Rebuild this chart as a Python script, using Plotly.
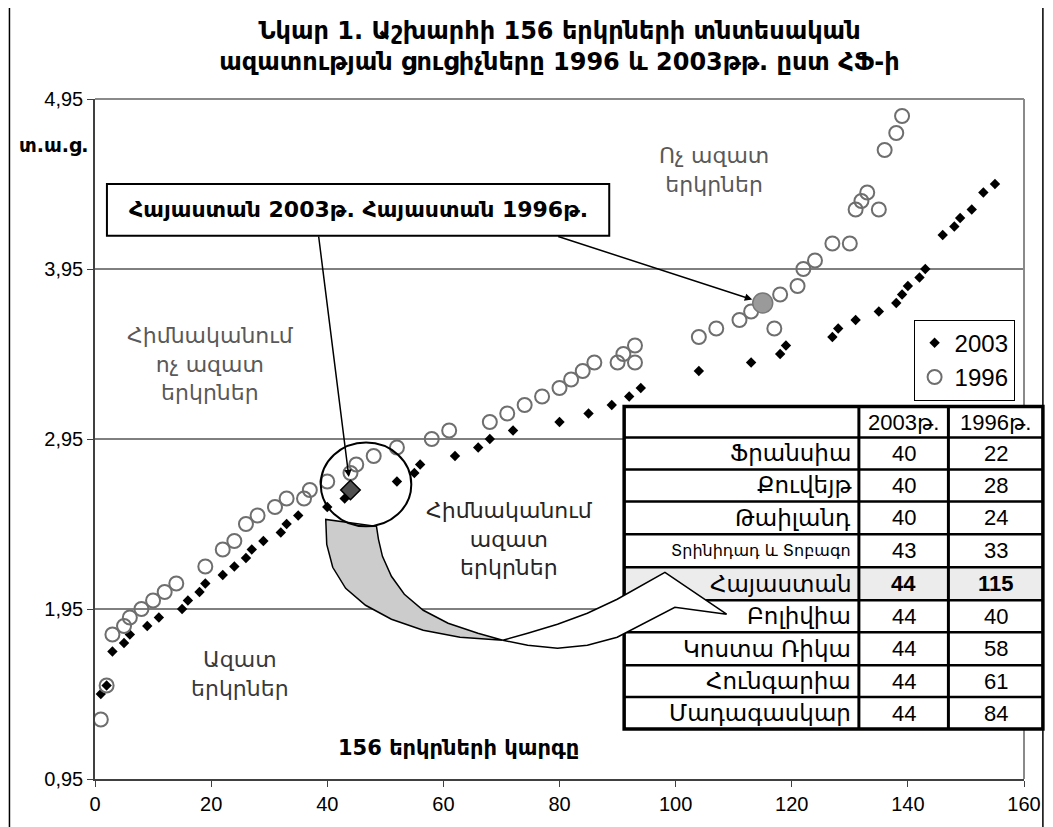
import plotly.graph_objects as go

# ---------------- data ----------------
rank_2003 = [1, 2, 3, 5, 6, 9, 11, 15, 16, 18, 19, 22, 24, 26, 27, 29, 32, 33, 35, 40, 43,
             52, 55, 56, 62, 66, 68, 72, 80, 85, 89, 92, 94, 104, 113, 118, 119, 127, 128,
             131, 135, 138, 139, 140, 142, 143, 146, 148, 149, 151, 153, 155]
score_2003 = [1.45, 1.50, 1.70, 1.75, 1.80, 1.85, 1.90, 1.95, 2.00, 2.05, 2.10, 2.15, 2.20,
              2.25, 2.30, 2.35, 2.40, 2.45, 2.50, 2.55, 2.60, 2.70, 2.75, 2.80, 2.85, 2.90,
              2.95, 3.00, 3.05, 3.10, 3.15, 3.20, 3.25, 3.35, 3.40, 3.45, 3.50, 3.55, 3.60,
              3.65, 3.70, 3.75, 3.80, 3.85, 3.90, 3.95, 4.15, 4.20, 4.25, 4.30, 4.40, 4.45]

rank_1996 = [1, 2, 3, 5, 6, 8, 10, 12, 14, 19, 22, 24, 26, 28, 31, 33, 36, 37, 40, 44, 45,
             48, 52, 58, 61, 68, 71, 74, 77, 80, 82, 84, 86, 90, 91, 93, 93, 104, 107, 111,
             113, 117, 118, 121, 122, 124, 127, 130, 131, 132, 133, 135, 136, 138, 139]
score_1996 = [1.30, 1.50, 1.80, 1.85, 1.90, 1.95, 2.00, 2.05, 2.10, 2.20, 2.30, 2.35, 2.45,
              2.50, 2.55, 2.60, 2.60, 2.65, 2.70, 2.75, 2.80, 2.85, 2.90, 2.95, 3.00, 3.05,
              3.10, 3.15, 3.20, 3.25, 3.30, 3.35, 3.40, 3.40, 3.45, 3.40, 3.50, 3.55, 3.60,
              3.65, 3.70, 3.60, 3.80, 3.85, 3.95, 4.00, 4.10, 4.10, 4.30, 4.35, 4.40, 4.30,
              4.65, 4.75, 4.85]

armenia_rank_2003 = [44]
armenia_score_2003 = [2.65]
armenia_rank_1996 = [115]
armenia_score_1996 = [3.75]

table_header = ["", "2003թ.", "1996թ."]
table_countries = ["Ֆրանսիա", "Քուվեյթ", "Թաիլանդ", "Տրինիդադ և Տոբագո", "Հայաստան",
                   "Բոլիվիա", "Կոստա Ռիկա", "Հունգարիա", "Մադագասկար"]
table_2003 = [40, 40, 40, 43, 44, 44, 44, 44, 44]
table_1996 = [22, 28, 24, 33, 115, 40, 58, 61, 84]

y_ticks = [0.95, 1.95, 2.95, 3.95, 4.95]
x_ticks = [0, 20, 40, 60, 80, 100, 120, 140, 160]

title_text = ("Նկար 1. Աշխարհի 156 երկրների տնտեսական<br>"
              "ազատության ցուցիչները 1996 և 2003թթ. ըստ ՀՖ-ի")

# ---------------- layout helpers (page pixel coordinates) ----------------
OFF = 8                       # default body margin of the html page
W, H = 1053 - OFF, 827 - OFF  # figure size
L, R, T, B = 95, 1029, 99, 780  # plot area in page pixels


def px(x):
    return (x - L) / (R - L)


def py(y):
    return (B - y) / (B - T)


ARM = "DejaVu Sans"
LAT = "Liberation Sans, Arial, DejaVu Sans"

fig = go.Figure()

fig.add_trace(go.Scatter(
    x=rank_2003, y=score_2003, mode="markers", name="2003", legendrank=1,
    marker=dict(symbol="diamond", size=8, color="black")))
fig.add_trace(go.Scatter(
    x=rank_1996, y=score_1996, mode="markers", name="1996", legendrank=2,
    marker=dict(symbol="circle-open", size=14, color="#6e6e6e", line=dict(width=2))))
fig.add_trace(go.Scatter(
    x=armenia_rank_2003, y=armenia_score_2003, mode="markers", showlegend=False,
    marker=dict(symbol="diamond", size=15, color="#505050", line=dict(color="black", width=1.5))))
fig.add_trace(go.Scatter(
    x=armenia_rank_1996, y=armenia_score_1996, mode="markers", showlegend=False,
    marker=dict(symbol="circle", size=20, color="#9a9a9a", line=dict(color="#777777", width=1.5))))

shapes = []
for v in y_ticks[1:-1]:
    shapes.append(dict(type="line", xref="paper", yref="y", x0=0, x1=1, y0=v, y1=v,
                       line=dict(color="black", width=1), layer="below"))
shapes.append(dict(type="line", xref="paper", yref="paper", x0=0, x1=1, y0=1, y1=1,
                   line=dict(color="#8a8a8a", width=2)))
shapes.append(dict(type="line", xref="paper", yref="paper", x0=1, x1=1, y0=0, y1=1,
                   line=dict(color="#8a8a8a", width=2)))
shapes.append(dict(type="rect", xref="paper", yref="paper", x0=px(9), x1=px(1048),
                   y0=py(830), y1=py(3), line=dict(color="black", width=1.5)))

# table
col_x = [627, 863, 953, 1048]
row_y = [407, 438, 470, 502, 535, 568, 601, 633, 666, 698, 730]
shapes.append(dict(type="rect", xref="paper", yref="paper", x0=px(col_x[0]), x1=px(col_x[-1]),
                   y0=py(row_y[-1]), y1=py(row_y[0]), fillcolor="white",
                   line=dict(width=0), layer="above"))
hi = table_countries.index("Հայաստան") + 1
shapes.append(dict(type="rect", xref="paper", yref="paper", x0=px(col_x[0]), x1=px(col_x[-1]),
                   y0=py(row_y[hi + 1]), y1=py(row_y[hi]), fillcolor="#ececec",
                   line=dict(width=0), layer="above"))
for yy in row_y[1:-1]:
    shapes.append(dict(type="line", xref="paper", yref="paper", x0=px(col_x[0]), x1=px(col_x[-1]),
                       y0=py(yy), y1=py(yy), line=dict(color="black", width=2.5)))
for xx in col_x[1:-1]:
    shapes.append(dict(type="line", xref="paper", yref="paper", x0=px(xx), x1=px(xx),
                       y0=py(row_y[0]), y1=py(row_y[-1]), line=dict(color="black", width=3)))
shapes.append(dict(type="rect", xref="paper", yref="paper", x0=px(col_x[0]), x1=px(col_x[-1]),
                   y0=py(row_y[-1]), y1=py(row_y[0]), line=dict(color="black", width=3.5)))


def poly(points):
    return "M " + " L ".join(f"{px(a):.5f},{py(b):.5f}" for a, b in points) + " Z"


gray_part = [(327, 520), (328, 545), (334, 568), (347, 589), (367, 606), (393, 620),
             (425, 631), (462, 638), (505, 641), (480, 634), (450, 624), (425, 611),
             (406, 595), (393, 577), (384, 557), (380, 540), (378, 527)]
white_part = [(505, 641), (530, 646), (560, 649), (590, 646), (620, 638), (678, 608),
              (730, 615), (668, 573), (620, 600), (590, 614), (560, 625), (530, 634)]
shapes.append(dict(type="path", xref="paper", yref="paper", path=poly(gray_part),
                   fillcolor="#cccccc", line=dict(color="black", width=1.5), layer="above"))
shapes.append(dict(type="path", xref="paper", yref="paper", path=poly(white_part),
                   fillcolor="white", line=dict(color="black", width=1.5), layer="above"))

shapes.append(dict(type="circle", xref="paper", yref="paper", x0=px(322), x1=px(413),
                   y0=py(527), y1=py(443), line=dict(color="black", width=2)))
shapes.append(dict(type="rect", xref="paper", yref="paper", x0=px(107), x1=px(612),
                   y0=py(236), y1=py(184), fillcolor="white",
                   line=dict(color="black", width=2), layer="above"))

annotations = []


def txt(x, y, s, size, color="black", family=ARM, bold=False, xanchor="center"):
    annotations.append(dict(
        xref="paper", yref="paper", x=px(x), y=py(y), text=(f"<b>{s}</b>" if bold else s),
        showarrow=False, xanchor=xanchor, yanchor="middle",
        font=dict(family=family, size=size, color=color)))


txt(360, 210, "Հայաստան 2003թ. Հայաստան 1996թ.", 22, bold=True)
txt(53, 145, "տ.ա.ց.", 19, bold=True)
txt(717, 170, "Ոչ ազատ<br>երկրներ", 22, color="#595959")
txt(211, 364, "Հիմնականում<br>ոչ ազատ<br>երկրներ", 22, color="#595959")
txt(512, 540, "Հիմնականում<br>ազատ<br>երկրներ", 22, color="#262626")
txt(241, 675, "Ազատ<br>երկրներ", 22, color="#3a3a3a")
txt(460, 749, "156 երկրների կարգը", 21, bold=True)

annotations.append(dict(x=armenia_rank_2003[0], y=armenia_score_2003[0], xref="x", yref="y",
                        ax=320 - 352, ay=236 - 491, axref="pixel", ayref="pixel", text="",
                        showarrow=True, arrowhead=2, arrowsize=1, arrowwidth=1.5,
                        arrowcolor="black", standoff=13))
annotations.append(dict(x=armenia_rank_1996[0], y=armenia_score_1996[0], xref="x", yref="y",
                        ax=560 - 766, ay=236 - 303, axref="pixel", ayref="pixel", text="",
                        showarrow=True, arrowhead=2, arrowsize=1, arrowwidth=1.5,
                        arrowcolor="black", standoff=11))

for j, h in enumerate(table_header):
    if h:
        txt((col_x[j] + col_x[j + 1]) / 2, (row_y[0] + row_y[1]) / 2, h, 22, family=LAT)
for i, c in enumerate(table_countries):
    yc = (row_y[i + 1] + row_y[i + 2]) / 2
    size = 16 if len(c) > 12 else 23
    bold = c == "Հայաստան"
    txt(857, yc, c, size, xanchor="right")
    txt((col_x[1] + col_x[2]) / 2, yc, str(table_2003[i]), 22, family=LAT, bold=bold)
    txt((col_x[2] + col_x[3]) / 2, yc, str(table_1996[i]), 22, family=LAT, bold=bold)

fig.update_layout(
    width=W, height=H, autosize=False,
    margin=dict(l=L - OFF, r=W - (R - OFF), t=T - OFF, b=H - (B - OFF)),
    paper_bgcolor="white", plot_bgcolor="white",
    separators=", ",
    title=dict(text=f"<b>{title_text}</b>", x=0.5, xanchor="center", xref="paper",
               y=1 - 31 / H, yanchor="middle",
               font=dict(family=ARM, size=24, color="black")),
    showlegend=True,
    legend=dict(x=px(918), y=py(320), xanchor="left", yanchor="top",
                bgcolor="white", bordercolor="black", borderwidth=1,
                font=dict(family=LAT, size=24, color="black"),
                itemwidth=30, tracegroupgap=0),
    shapes=shapes,
    annotations=annotations,
)
fig.update_xaxes(range=[0, 160], tickvals=x_ticks, ticks="outside", ticklen=6,
                 tickcolor="#404040", showline=True, linecolor="#404040", linewidth=1.5,
                 showgrid=False, zeroline=False,
                 tickfont=dict(family=LAT, size=20, color="black"))
fig.update_yaxes(range=[0.95, 4.95], tickvals=y_ticks, tickformat=".2f", ticks="outside",
                 ticklen=6, tickcolor="#404040", showline=True, linecolor="#404040",
                 linewidth=1.5, showgrid=False, zeroline=False,
                 tickfont=dict(family=LAT, size=20, color="black"))

fig.write_html("out.html")
